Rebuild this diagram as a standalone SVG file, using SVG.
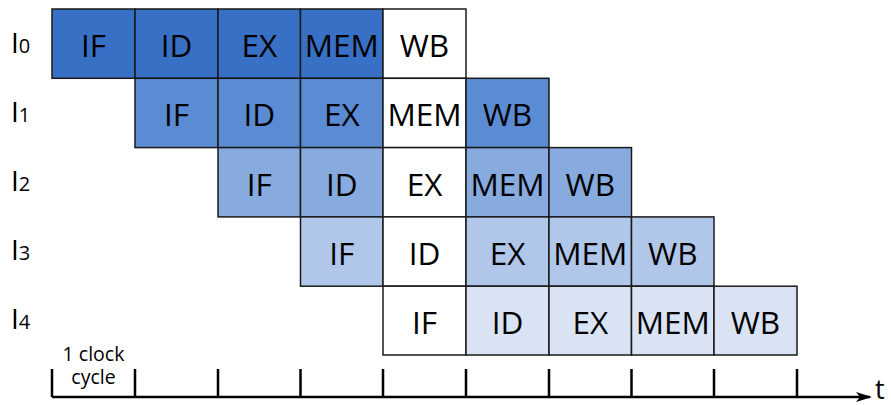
<svg xmlns="http://www.w3.org/2000/svg" width="891" height="405" viewBox="0 0 891 405">
<defs>
<style>
rect.c{stroke:#1a1a1a;stroke-width:1.5}
.r0{fill:#3870C6}.r1{fill:#5B8BD3}.r2{fill:#87AADF}.r3{fill:#B1C7E9}.r4{fill:#D9E3F4}.w{fill:#ffffff}
text{font-family:"Open Sans","Liberation Sans",sans-serif;fill:#000}
.t{font-size:31.5px;text-anchor:middle}
.lab{font-size:28px}
.sub{font-size:20px}
.ax{stroke:#000;stroke-width:2.5;fill:none}
.cc{font-size:19.5px;text-anchor:middle}
</style>
<marker id="ah" markerWidth="16" markerHeight="10" refX="14" refY="5" orient="auto" markerUnits="userSpaceOnUse">
<path d="M0,0 L16,5 L0,10 L4,5 Z" fill="#000"/>
</marker>
</defs>
<g id="labels">
<text class="lab" x="11" y="53">I<tspan class="sub">0</tspan></text>
<text class="lab" x="11" y="122">I<tspan class="sub">1</tspan></text>
<text class="lab" x="11" y="191">I<tspan class="sub">2</tspan></text>
<text class="lab" x="11" y="260">I<tspan class="sub">3</tspan></text>
<text class="lab" x="11" y="329">I<tspan class="sub">4</tspan></text>
</g>
<g id="row0">
<rect class="c r0" x="52" y="9" width="83" height="69.3"/><text class="t" x="93.5" y="57">IF</text>
<rect class="c r0" x="135" y="9" width="83" height="69.3"/><text class="t" x="176.5" y="57">ID</text>
<rect class="c r0" x="218" y="9" width="82.5" height="69.3"/><text class="t" x="259.3" y="57">EX</text>
<rect class="c r0" x="300.5" y="9" width="82.5" height="69.3"/><text class="t" x="341.8" y="57">MEM</text>
<rect class="c w" x="383" y="9" width="83" height="69.3"/><text class="t" x="424.5" y="57">WB</text>
</g>
<g id="row1">
<rect class="c r1" x="135" y="78.3" width="83" height="69.3"/><text class="t" x="176.5" y="126.3">IF</text>
<rect class="c r1" x="218" y="78.3" width="82.5" height="69.3"/><text class="t" x="259.3" y="126.3">ID</text>
<rect class="c r1" x="300.5" y="78.3" width="82.5" height="69.3"/><text class="t" x="341.8" y="126.3">EX</text>
<rect class="c w" x="383" y="78.3" width="83" height="69.3"/><text class="t" x="424.5" y="126.3">MEM</text>
<rect class="c r1" x="466" y="78.3" width="83" height="69.3"/><text class="t" x="507.5" y="126.3">WB</text>
</g>
<g id="row2">
<rect class="c r2" x="218" y="147.6" width="82.5" height="69.3"/><text class="t" x="259.3" y="195.6">IF</text>
<rect class="c r2" x="300.5" y="147.6" width="82.5" height="69.3"/><text class="t" x="341.8" y="195.6">ID</text>
<rect class="c w" x="383" y="147.6" width="83" height="69.3"/><text class="t" x="424.5" y="195.6">EX</text>
<rect class="c r2" x="466" y="147.6" width="83" height="69.3"/><text class="t" x="507.5" y="195.6">MEM</text>
<rect class="c r2" x="549" y="147.6" width="82.5" height="69.3"/><text class="t" x="590.3" y="195.6">WB</text>
</g>
<g id="row3">
<rect class="c r3" x="300.5" y="216.9" width="82.5" height="69.3"/><text class="t" x="341.8" y="264.9">IF</text>
<rect class="c w" x="383" y="216.9" width="83" height="69.3"/><text class="t" x="424.5" y="264.9">ID</text>
<rect class="c r3" x="466" y="216.9" width="83" height="69.3"/><text class="t" x="507.5" y="264.9">EX</text>
<rect class="c r3" x="549" y="216.9" width="82.5" height="69.3"/><text class="t" x="590.3" y="264.9">MEM</text>
<rect class="c r3" x="631.5" y="216.9" width="82.5" height="69.3"/><text class="t" x="672.8" y="264.9">WB</text>
</g>
<g id="row4">
<rect class="c w" x="383" y="286.2" width="83" height="68.8"/><text class="t" x="424.5" y="334">IF</text>
<rect class="c r4" x="466" y="286.2" width="83" height="68.8"/><text class="t" x="507.5" y="334">ID</text>
<rect class="c r4" x="549" y="286.2" width="82.5" height="68.8"/><text class="t" x="590.3" y="334">EX</text>
<rect class="c r4" x="631.5" y="286.2" width="82.5" height="68.8"/><text class="t" x="672.8" y="334">MEM</text>
<rect class="c r4" x="714" y="286.2" width="83" height="68.8"/><text class="t" x="755.5" y="334">WB</text>
</g>
<g id="axis">
<path class="ax" d="M52,397 L870,397" marker-end="url(#ah)"/>
<path class="ax" d="M52,369 V397 M135,369 V397 M218,369 V397 M300.5,369 V397 M383,369 V397 M466,369 V397 M549,369 V397 M631.5,369 V397 M714,369 V397 M797,369 V397"/>
<text x="875" y="399" style="font-size:27px">t</text>
<text class="cc" x="93.5" y="361">1 clock</text>
<text class="cc" x="93.5" y="384">cycle</text>
</g>
</svg>
